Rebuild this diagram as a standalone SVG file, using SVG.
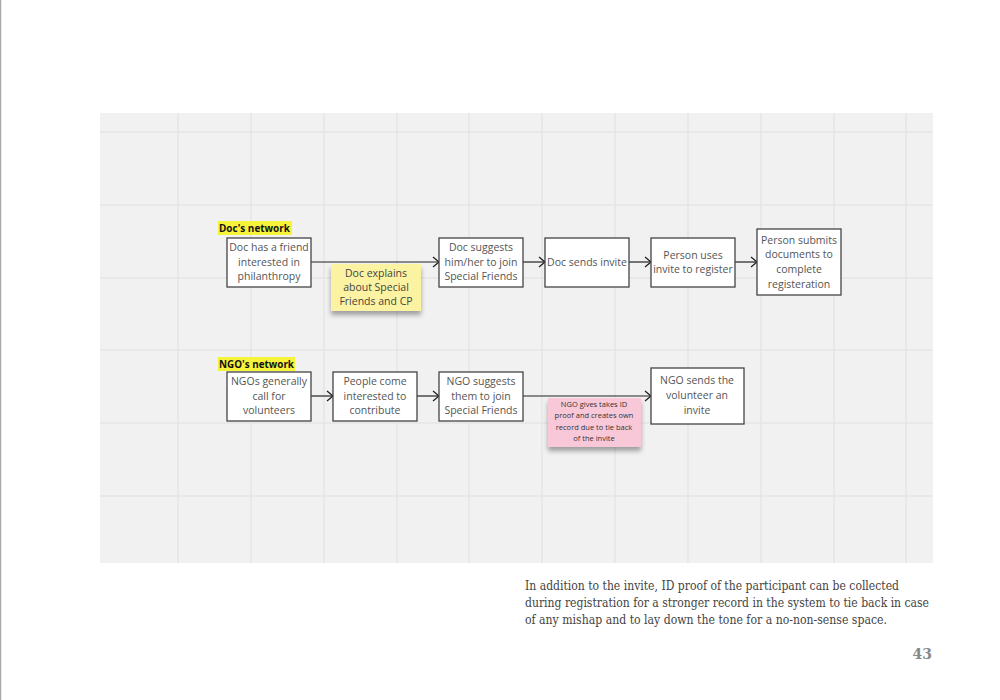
<svg xmlns="http://www.w3.org/2000/svg" width="1000" height="700" viewBox="0 0 1000 700">
<defs>
<marker id="arr" markerUnits="userSpaceOnUse" markerWidth="12" markerHeight="12" refX="8" refY="6" orient="auto">
<path d="M2,1 L8,6 L2,11" fill="none" stroke="#222" stroke-width="1.3"/>
</marker>
<filter id="sh" x="-20%" y="-20%" width="140%" height="160%">
<feGaussianBlur in="SourceAlpha" stdDeviation="2.5"/>
<feOffset dx="0" dy="4"/>
<feComponentTransfer><feFuncA type="linear" slope="0.35"/></feComponentTransfer>
<feMerge><feMergeNode/><feMergeNode in="SourceGraphic"/></feMerge>
</filter>
</defs>
<style>
.grid line{stroke:#e4e4e4;stroke-width:1.5}
.box{fill:#fff;stroke:#444;stroke-width:1.3}
.bt{font-family:"Open Sans","Noto Sans",sans-serif;font-size:10.5px;fill:#555;text-anchor:middle}
.lbl{font-family:"Open Sans","Noto Sans",sans-serif;font-size:11px;font-weight:bold;fill:#111}
.hl{fill:#f7f23a}
.conn line{stroke:#222;stroke-width:1.2;marker-end:url(#arr)}
.st{font-family:"Open Sans","Noto Sans",sans-serif;font-size:10.5px;fill:#444;text-anchor:middle}
.pt{font-family:"Open Sans","Noto Sans",sans-serif;font-size:7.5px;fill:#333;text-anchor:middle}
.cap{font-family:"DejaVu Serif","Liberation Serif",serif;font-size:12px;fill:#444}
</style>
<rect width="1000" height="700" fill="#fff"/>
<line x1="0.5" y1="0" x2="0.5" y2="700" stroke="#aaa" stroke-width="1.5"/>
<rect x="100" y="113" width="833" height="450" fill="#f1f1f1"/>
<g class="grid">
<line x1="178" y1="113" x2="178" y2="563"/><line x1="251" y1="113" x2="251" y2="563"/>
<line x1="324" y1="113" x2="324" y2="563"/><line x1="397" y1="113" x2="397" y2="563"/>
<line x1="469" y1="113" x2="469" y2="563"/><line x1="542" y1="113" x2="542" y2="563"/>
<line x1="615" y1="113" x2="615" y2="563"/><line x1="688" y1="113" x2="688" y2="563"/>
<line x1="761" y1="113" x2="761" y2="563"/><line x1="834" y1="113" x2="834" y2="563"/>
<line x1="906" y1="113" x2="906" y2="563"/>
<line x1="100" y1="132" x2="933" y2="132"/><line x1="100" y1="205" x2="933" y2="205"/>
<line x1="100" y1="278" x2="933" y2="278"/><line x1="100" y1="350" x2="933" y2="350"/>
<line x1="100" y1="423" x2="933" y2="423"/><line x1="100" y1="496" x2="933" y2="496"/>
</g>
<g id="doc-label"><rect class="hl" x="218" y="221" width="74" height="14"/><text class="lbl" x="219" y="232" textLength="71" lengthAdjust="spacingAndGlyphs">Doc's network</text></g>
<g id="ngo-label"><rect class="hl" x="218" y="357" width="77" height="14"/><text class="lbl" x="219" y="368" textLength="75" lengthAdjust="spacingAndGlyphs">NGO's network</text></g>
<g class="conn">
<line x1="311" y1="262" x2="439" y2="262"/>
<line x1="523" y1="262" x2="545" y2="262"/>
<line x1="629" y1="262" x2="651" y2="262"/>
<line x1="735" y1="262" x2="757" y2="262"/>
<line x1="311" y1="396" x2="333" y2="396"/>
<line x1="417" y1="396" x2="439" y2="396"/>
<line x1="523" y1="396" x2="651" y2="396"/>
</g>
<g id="d1"><rect class="box" x="227" y="238" width="84" height="49"/><text class="bt" x="269" y="251">Doc has a friend</text><text class="bt" x="269" y="266">interested in</text><text class="bt" x="269" y="280">philanthropy</text></g>
<g id="d2"><rect class="box" x="439" y="238" width="84" height="49"/><text class="bt" x="481" y="251">Doc suggests</text><text class="bt" x="481" y="266">him/her to join</text><text class="bt" x="481" y="280">Special Friends</text></g>
<g id="d3"><rect class="box" x="545" y="238" width="84" height="49"/><text class="bt" x="587" y="266">Doc sends invite</text></g>
<g id="d4"><rect class="box" x="651" y="238" width="84" height="49"/><text class="bt" x="693" y="259">Person uses</text><text class="bt" x="693" y="273">invite to register</text></g>
<g id="d5"><rect class="box" x="757" y="229" width="84" height="66"/><text class="bt" x="799" y="244">Person submits</text><text class="bt" x="799" y="258">documents to</text><text class="bt" x="799" y="273">complete</text><text class="bt" x="799" y="288">registeration</text></g>
<g id="note-doc"><rect x="331" y="264" width="90" height="47" fill="#fbf3a2" filter="url(#sh)"/><text class="st" x="376" y="277">Doc explains</text><text class="st" x="376" y="291">about Special</text><text class="st" x="376" y="305">Friends and CP</text></g>
<g id="n1"><rect class="box" x="227" y="372" width="84" height="49"/><text class="bt" x="269" y="385">NGOs generally</text><text class="bt" x="269" y="400">call for</text><text class="bt" x="269" y="414">volunteers</text></g>
<g id="n2"><rect class="box" x="333" y="372" width="84" height="49"/><text class="bt" x="375" y="385">People come</text><text class="bt" x="375" y="400">interested to</text><text class="bt" x="375" y="414">contribute</text></g>
<g id="n3"><rect class="box" x="439" y="372" width="84" height="49"/><text class="bt" x="481" y="385">NGO suggests</text><text class="bt" x="481" y="400">them to join</text><text class="bt" x="481" y="414">Special Friends</text></g>
<g id="n4"><rect class="box" x="651" y="368" width="93" height="56"/><text class="bt" x="697" y="384">NGO sends the</text><text class="bt" x="697" y="399">volunteer an</text><text class="bt" x="697" y="414">invite</text></g>
<g id="note-ngo"><rect x="548" y="398" width="93" height="49" fill="#f8c8d8" filter="url(#sh)"/><text class="pt" x="594" y="407">NGO gives takes ID</text><text class="pt" x="594" y="418">proof and creates own</text><text class="pt" x="594" y="430">record due to tie back</text><text class="pt" x="594" y="441">of the invite</text></g>
<g id="caption">
<text class="cap" x="525" y="590" textLength="374" lengthAdjust="spacingAndGlyphs">In addition to the invite, ID proof of the participant can be collected</text>
<text class="cap" x="525" y="607" textLength="404" lengthAdjust="spacingAndGlyphs">during registration for a stronger record in the system to tie back in case</text>
<text class="cap" x="525" y="624" textLength="362" lengthAdjust="spacingAndGlyphs">of any mishap and to lay down the tone for a no-non-sense space.</text>
<text x="932" y="659" font-family="DejaVu Serif,Liberation Serif,serif" font-size="14" font-weight="bold" fill="#888" text-anchor="end">43</text>
</g>
</svg>
